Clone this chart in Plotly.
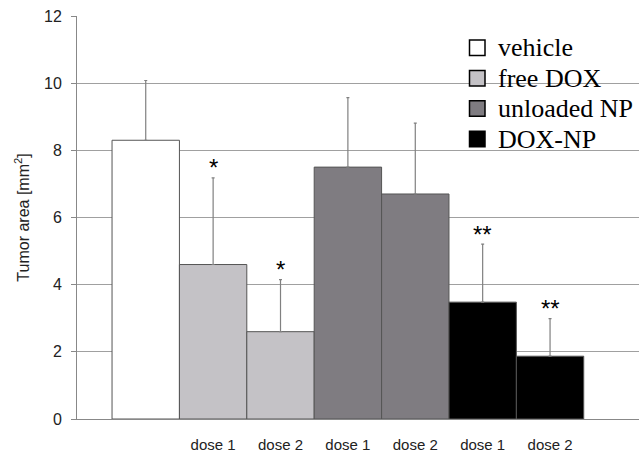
import plotly.graph_objects as go

# ---- data ----
groups = ["vehicle", "free DOX", "free DOX", "unloaded NP", "unloaded NP", "DOX-NP", "DOX-NP"]
tick_labels = ["", "dose 1", "dose 2", "dose 1", "dose 2", "dose 1", "dose 2"]
values = [8.3, 4.6, 2.6, 7.5, 6.7, 3.48, 1.87]
errors = [1.78, 2.58, 1.55, 2.07, 2.11, 1.73, 1.12]
signif = ["", "*", "*", "", "", "**", "**"]
legend_order = ["vehicle", "free DOX", "unloaded NP", "DOX-NP"]
colors = {"vehicle": "#ffffff", "free DOX": "#c4c2c6", "unloaded NP": "#7f7c81", "DOX-NP": "#000000"}

positions = list(range(len(values)))

W, H = 639, 453
ML, MR, MT, MB = 77, 0, 16, 34
PW, PH = W - ML - MR, H - MT - MB


def px_to_paper_x(px):
    return (px - ML) / PW


def px_to_paper_y(py):
    return (H - MB - py) / PH


fig = go.Figure()
for g in legend_order:
    idx = [i for i, gg in enumerate(groups) if gg == g]
    fig.add_trace(go.Bar(
        x=[positions[i] for i in idx],
        y=[values[i] for i in idx],
        width=1,
        name=g,
        showlegend=False,
        marker=dict(color=colors[g], line=dict(color="#555555", width=1)),
        error_y=dict(type="data", symmetric=False,
                     array=[errors[i] for i in idx],
                     arrayminus=[0] * len(idx),
                     color="#808080", thickness=1.2, width=1.5),
    ))

for i, s in enumerate(signif):
    if s:
        fig.add_annotation(x=positions[i], y=values[i] + errors[i], text=s,
                           showarrow=False, yanchor="middle", yshift=10,
                           font=dict(family="Arial, Liberation Sans", size=24, color="#000"))

# ---- manual legend (layout) ----
leg_sq_left, leg_sq_size = 469.5, 15.5
leg_text_left = 496
leg_row0, leg_row_gap = 47.8, 30.4
for k, g in enumerate(legend_order):
    cy = leg_row0 + k * leg_row_gap
    fig.add_shape(type="rect", xref="paper", yref="paper",
                  x0=px_to_paper_x(leg_sq_left), x1=px_to_paper_x(leg_sq_left + leg_sq_size),
                  y0=px_to_paper_y(cy + leg_sq_size / 2), y1=px_to_paper_y(cy - leg_sq_size / 2),
                  fillcolor=colors[g], line=dict(color="#000000", width=1.5))
    fig.add_annotation(xref="paper", yref="paper", x=px_to_paper_x(leg_text_left),
                       y=px_to_paper_y(cy), text=g, showarrow=False,
                       xanchor="left", yanchor="middle",
                       font=dict(family="Liberation Serif, Times New Roman", size=26, color="#000"))

fig.update_layout(
    width=W, height=H,
    margin=dict(l=ML, r=MR, t=MT, b=MB),
    paper_bgcolor="white", plot_bgcolor="white",
    barmode="overlay",
    showlegend=False,
    xaxis=dict(range=[-1.02, 7.32], tickvals=positions, ticktext=tick_labels,
               showgrid=False, zeroline=False, showline=True, linecolor="#888888", linewidth=1,
               ticks="", ticklabelstandoff=12,
               tickfont=dict(family="Arial, Liberation Sans", size=15, color="#222")),
    yaxis=dict(range=[0, 12], tickvals=[0, 2, 4, 6, 8, 10, 12],
               showgrid=True, gridcolor="#a0a0a0", gridwidth=1, zeroline=False,
               showline=True, linecolor="#888888", linewidth=1,
               ticks="outside", ticklen=5, tickcolor="#888888", ticklabelstandoff=6,
               tickfont=dict(family="Arial, Liberation Sans", size=16, color="#222"),
               title=dict(text="Tumor area [mm<sup>2</sup>]", standoff=10,
                          font=dict(family="Arial, Liberation Sans", size=16, color="#222"))),
)

fig.write_html("out.html")
